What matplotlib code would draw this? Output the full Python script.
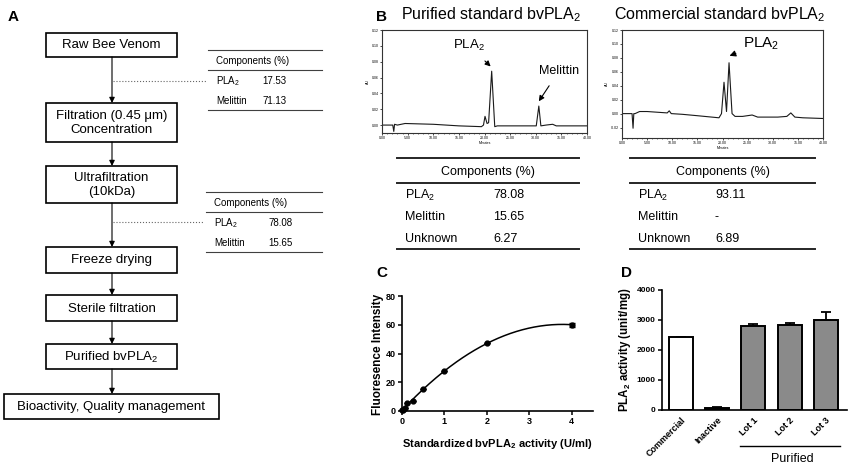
import numpy as np
import matplotlib
matplotlib.use('Agg')
import matplotlib.pyplot as plt
from matplotlib.patches import Rectangle

plt.rcParams['font.family'] = ['Liberation Sans', 'DejaVu Sans']
plt.rcParams['mathtext.default'] = 'regular'

W, H = 850, 466
fig = plt.figure(figsize=(8.5, 4.66), dpi=100)


def px_axes(x0, y0, x1, y1):
    return fig.add_axes([x0 / W, 1 - y1 / H, (x1 - x0) / W, (y1 - y0) / H])


# ---------------- data ----------------
flow_steps = ['Raw Bee Venom', 'Filtration (0.45 μm)\nConcentration', 'Ultrafiltration\n(10kDa)',
              'Freeze drying', 'Sterile filtration', 'Purified bvPLA$_2$',
              'Bioactivity, Quality management']
raw_components = ['PLA$_2$', 'Melittin']
raw_values = ['17.53', '71.13']
uf_components = ['PLA$_2$', 'Melittin']
uf_values = ['78.08', '15.65']
std_components = ['PLA$_2$', 'Melittin', 'Unknown']
purified_values = ['78.08', '15.65', '6.27']
commercial_values = ['93.11', '-', '6.89']

chrom_pur_time = [0, 2.1, 2.3, 2.45, 3.0, 4.5, 10, 15, 19.4, 19.8, 20.1, 20.5, 20.8, 21.4, 22.0,
                  22.5, 26, 30.1, 30.6, 31.0, 32, 33.3, 34, 40]
chrom_pur_signal = [0.0, 0.0, -0.008, 0.001, 0.0, 0.002, 0.001, -0.001, -0.002, 0.0, 0.011, 0.002,
                    0.003, 0.068, -0.002, -0.001, -0.001, -0.001, 0.024, -0.001, 0.0, 0.001, -0.001, -0.001]

chrom_com_time = [0, 2.0, 2.2, 2.35, 2.6, 3.5, 5, 9.0, 9.4, 9.8, 12, 15, 19.3, 19.8, 20.3, 20.8,
                  21.3, 21.9, 22.5, 24, 25.9, 27, 31, 32.8, 33.6, 34.4, 36, 40]
chrom_com_signal = [0.0, 0.0, -0.021, 0.0, 0.0, 0.003, 0.003, 0.001, 0.004, 0.0, -0.001, -0.003,
                    -0.006, 0.0, 0.045, 0.003, 0.073, 0.0, -0.004, -0.004, -0.002, -0.005, -0.005,
                    -0.004, 0.001, -0.005, -0.006, -0.007]

std_activity = [0, 0.03125, 0.0625, 0.125, 0.25, 0.5, 1, 2, 4]
std_fluor = [0.5, 1.0, 2.0, 5.6, 7.0, 15.5, 27.5, 47.2, 60.0]
std_fluor_err = [0, 0, 0, 0, 0, 0, 0, 0, 1.5]

bar_labels = ['Commercial', 'Inactive', 'Lot 1', 'Lot 2', 'Lot 3']
bar_values = [2420, 80, 2800, 2830, 2990]
bar_errors = [30, 10, 80, 70, 270]
bar_colors = ['white', 'black', '#8a8a8a', '#8a8a8a', '#8a8a8a']

# ---------------- overlay (panel A, tables, labels) ----------------
ov = fig.add_axes([0, 0, 1, 1])
ov.set_xlim(0, W)
ov.set_ylim(H, 0)
ov.axis('off')
ov.set_zorder(10)

boxes = [(46, 33, 177, 57), (46, 103, 177, 142), (46, 166, 177, 203), (46, 247, 177, 273),
         (46, 295, 177, 321), (46, 344, 177, 369), (4, 394, 219, 419)]
for (x0, y0, x1, y1), txt in zip(boxes, flow_steps):
    ov.add_patch(Rectangle((x0, y0), x1 - x0, y1 - y0, fill=False, lw=1.2, ec='black'))
    ov.text((x0 + x1) / 2, (y0 + y1) / 2 + 0.5, txt, ha='center', va='center', fontsize=9.5,
            linespacing=1.15)
for (b0, b1) in zip(boxes[:-1], boxes[1:]):
    ov.annotate('', xy=(112, b1[1]), xytext=(112, b0[3]),
                arrowprops=dict(arrowstyle='-|>', color='black', lw=0.8, mutation_scale=8,
                                shrinkA=0, shrinkB=0))


def small_table(x0, x1, ytop, comps, vals, xval):
    ov.plot([x0, x1], [ytop, ytop], color='0.25', lw=0.8)
    ov.text(x0 + 8, ytop + 11, 'Components (%)', fontsize=7, va='center', ha='left')
    ov.plot([x0, x1], [ytop + 20, ytop + 20], color='0.25', lw=0.8)
    for i, (c, v) in enumerate(zip(comps, vals)):
        yy = ytop + 31 + i * 20
        ov.text(x0 + 8, yy, c, fontsize=7, va='center', ha='left')
        ov.text(xval, yy, v, fontsize=7, va='center', ha='left')
    ov.plot([x0, x1], [ytop + 60, ytop + 60], color='0.25', lw=0.8)


small_table(208, 322, 50, raw_components, raw_values, 262)
small_table(206, 322, 192, uf_components, uf_values, 268)
ov.plot([113, 206], [81, 81], ls=':', color='0.4', lw=0.8)
ov.plot([113, 204], [222, 222], ls=':', color='0.4', lw=0.8)


def big_table(x0, x1, xcenter, xlab, xval, comps, vals):
    for yy in (158, 183, 249):
        ov.plot([x0, x1], [yy, yy], color='0.15', lw=1.4)
    ov.text(xcenter, 172, 'Components (%)', fontsize=9, ha='center', va='center')
    for i, (c, v) in enumerate(zip(comps, vals)):
        yy = 195 + i * 22
        ov.text(xlab, yy, c, fontsize=9, ha='left', va='center')
        ov.text(xval, yy, v, fontsize=9, ha='left', va='center')


big_table(397, 579, 488, 405, 493, std_components, purified_values)
big_table(630, 815, 723, 638, 715, std_components, commercial_values)

for lab, (x, y) in zip('ABCD', [(8, 17), (376, 17), (376, 273), (621, 273)]):
    ov.text(x, y, lab, fontsize=11, fontweight='bold', ha='left', va='center')

ov.text(491, 15, 'Purified standard bvPLA$_2$', fontsize=11.5, ha='center', va='center')
ov.text(720, 15, 'Commercial standard bvPLA$_2$', fontsize=11.5, ha='center', va='center')

# ---------------- chromatograms ----------------
def chrom(ax, t, s, ylim, yticks):
    ax.plot(t, s, color='0.1', lw=0.8)
    ax.set_xlim(0, 40)
    ax.set_ylim(*ylim)
    ax.set_xticks(np.arange(0, 41, 5))
    ax.set_xticks(np.arange(0, 41, 1), minor=True)
    ax.set_xticklabels(['%.2f' % v for v in np.arange(0, 41, 5)])
    ax.set_yticks(yticks)
    ax.set_yticklabels(['%.2f' % v for v in yticks])
    ax.tick_params(labelsize=2.5, length=1.5, width=0.5, pad=1)
    ax.tick_params(which='minor', length=1, width=0.4)
    ax.set_xlabel('Minutes', fontsize=2.5, labelpad=0.5)
    ax.set_ylabel('AU', fontsize=2.5, labelpad=1)
    for sp in ax.spines.values():
        sp.set_linewidth(0.8)
        sp.set_color('0.2')


ch1 = px_axes(382, 30, 587, 133)
chrom(ch1, chrom_pur_time, chrom_pur_signal, (-0.01, 0.12), np.arange(0, 0.121, 0.02))
ch1.annotate('PLA$_2$', xy=(21.2, 0.074), xytext=(17.0, 0.1), fontsize=9.5,
             ha='center', va='center',
             arrowprops=dict(arrowstyle='-|>', color='black', lw=0.8, mutation_scale=8,
                             shrinkA=5, shrinkB=0))
ch1.annotate('Melittin', xy=(30.6, 0.030), xytext=(34.5, 0.068), fontsize=9,
             ha='center', va='center',
             arrowprops=dict(arrowstyle='-|>', color='black', lw=0.8, mutation_scale=8,
                             shrinkA=5, shrinkB=0))

ch2 = px_axes(622, 30, 823, 138)
chrom(ch2, chrom_com_time, chrom_com_signal, (-0.035, 0.12), np.arange(-0.02, 0.121, 0.02))
ch2.annotate('PLA$_2$', xy=(21.4, 0.083), xytext=(27.6, 0.1), fontsize=11,
             ha='center', va='center',
             arrowprops=dict(arrowstyle='-|>', color='black', lw=0.8, mutation_scale=9,
                             shrinkA=3, shrinkB=0))

# ---------------- panel C ----------------
axc = px_axes(402, 296, 593, 411)
coef = np.polyfit(std_activity, std_fluor, 2)
xf = np.linspace(0, 4, 200)
axc.plot(xf, np.polyval(coef, xf), color='black', lw=1.1)
axc.errorbar(std_activity, std_fluor, yerr=std_fluor_err, fmt='o', color='black', ms=3.5,
             capsize=2.5, elinewidth=1, capthick=1, clip_on=False)
axc.set_xlim(0, 4.5)
axc.set_ylim(0, 80)
axc.set_xticks([0, 1, 2, 3, 4])
axc.set_yticks([0, 20, 40, 60, 80])
for sp in ('top', 'right'):
    axc.spines[sp].set_visible(False)
for sp in ('left', 'bottom'):
    axc.spines[sp].set_linewidth(1.2)
axc.tick_params(length=3, width=1.1, labelsize=6.5, pad=1.5)
for lab in axc.get_xticklabels() + axc.get_yticklabels():
    lab.set_fontweight('bold')
ov.text(378, 354, 'Fluoresence Intensity', fontsize=8.5, fontweight='bold', rotation=90,
        ha='center', va='center')
axc.set_xlabel('Standardized bvPLA$_2$ activity (U/ml)', fontsize=8, fontweight='bold',
               labelpad=8)

# ---------------- panel D ----------------
axd = px_axes(662, 290, 847, 410)
pos = np.arange(len(bar_labels))
axd.bar(pos, bar_values, width=0.66, color=bar_colors, edgecolor='black', lw=1.4, zorder=2)
axd.errorbar(pos, bar_values, yerr=[[0] * len(pos), bar_errors], fmt='none', ecolor='black',
             elinewidth=1.3, capsize=3.5, capthick=1.3, zorder=1)
axd.set_xlim(-0.525, 4.585)
axd.set_ylim(0, 4000)
axd.set_yticks([0, 1000, 2000, 3000, 4000])
axd.set_xticks(pos)
axd.set_xticklabels(bar_labels, rotation=45, ha='right', va='top', rotation_mode='anchor',
                    fontsize=6.5, fontweight='bold')
for sp in ('top', 'right'):
    axd.spines[sp].set_visible(False)
for sp in ('left', 'bottom'):
    axd.spines[sp].set_linewidth(1.2)
axd.tick_params(axis='y', length=3, width=1.1, labelsize=6, pad=1.5)
axd.tick_params(axis='x', length=0, pad=4)
for lab in axd.get_yticklabels():
    lab.set_fontweight('bold')
ov.text(625, 350, 'PLA$_2$ activity (unit/mg)', fontsize=8.3, fontweight='bold', rotation=90,
        ha='center', va='center')
ov.plot([740, 840], [446, 446], color='black', lw=1.0)
ov.text(792, 459, 'Purified', fontsize=9, ha='center', va='center')

fig.savefig('out.png', dpi=100)
